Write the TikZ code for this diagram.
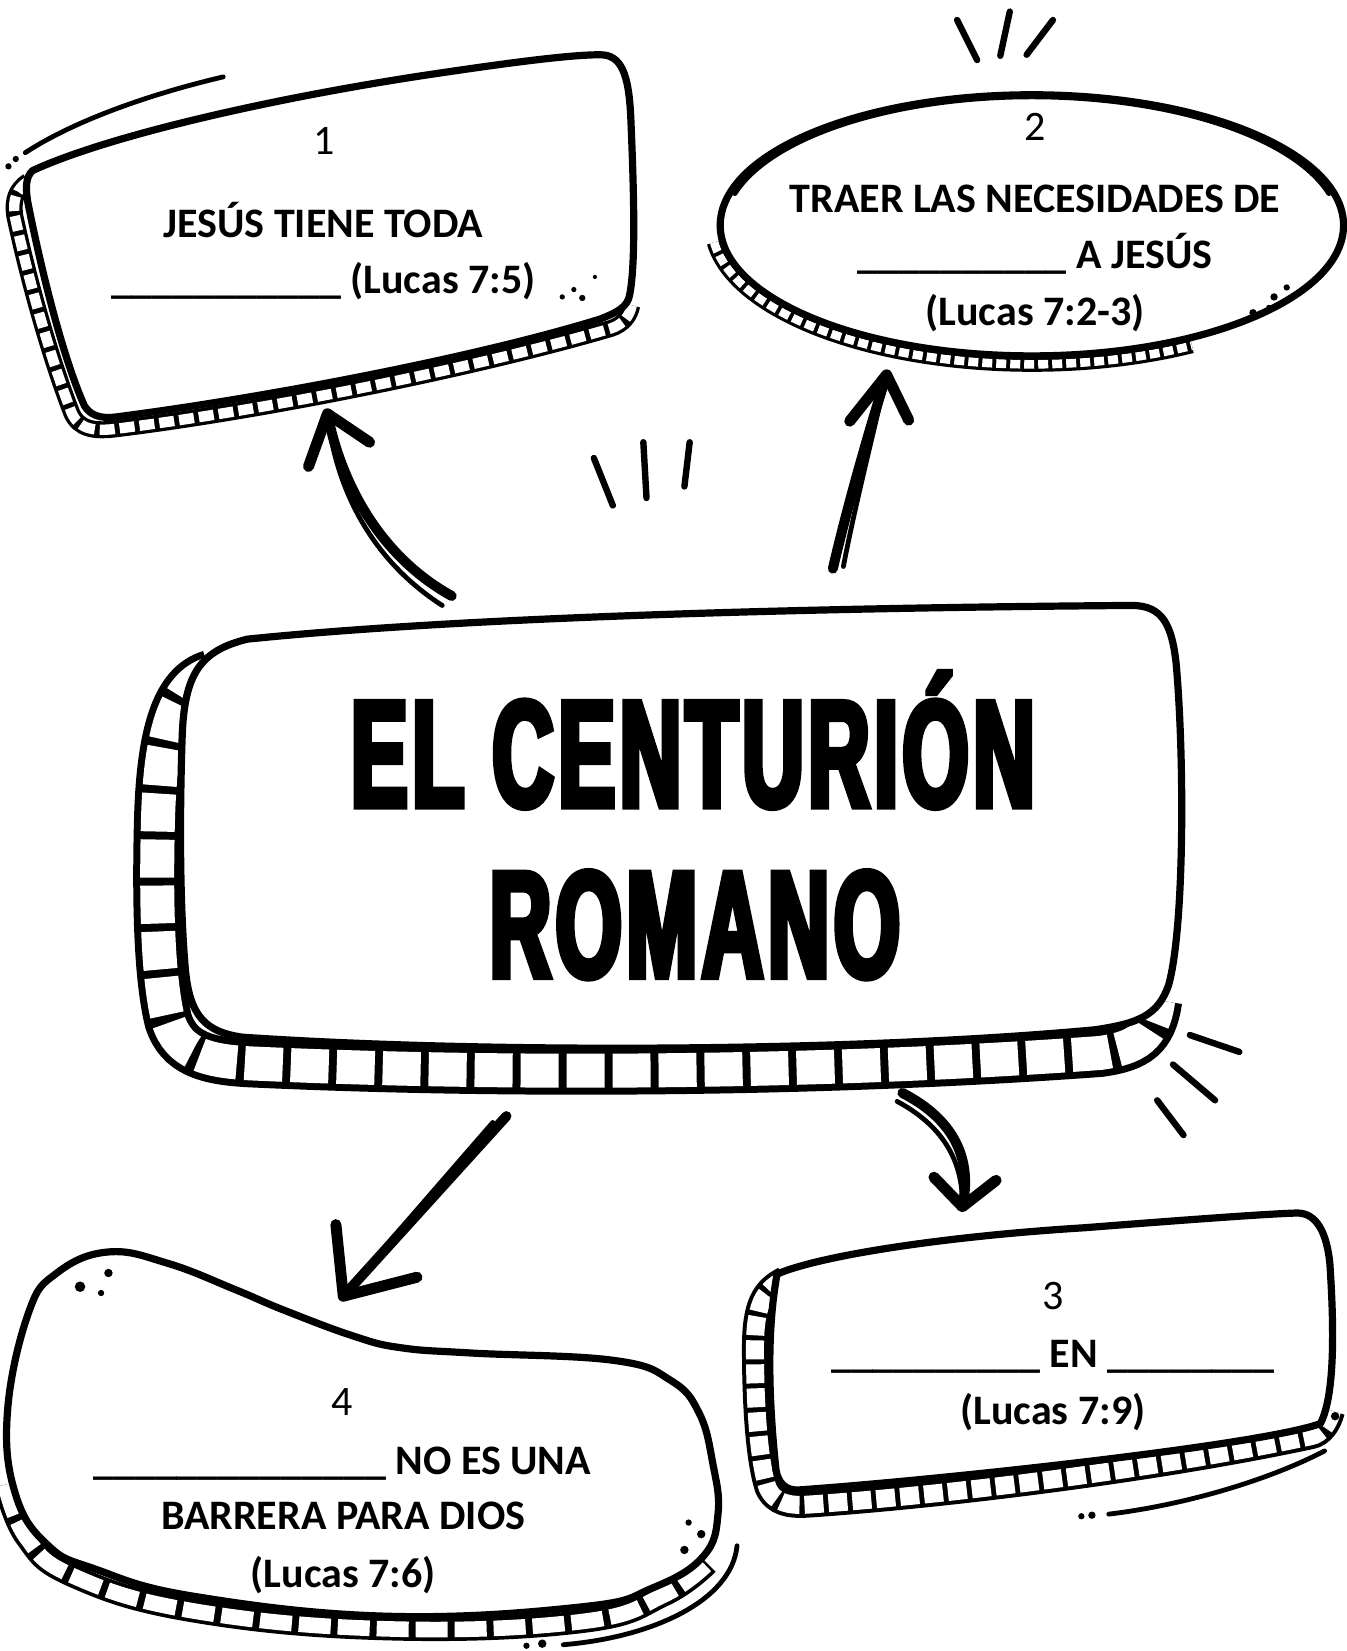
\documentclass[tikz,border=0pt]{standalone}
\usepackage{fontspec}
\setmainfont{Carlito}
\newfontfamily\titlefont{Liberation Sans}[FakeStretch=0.56, FakeBold=4, LetterSpace=3]

\begin{document}
\begin{tikzpicture}[x=0.5266pt, y=-0.5266pt]
	\tikzstyle{boxline}=[draw, fill=white, line width=3.6pt, line join=round]
	\tikzstyle{trace}=[line width=2.4pt, line cap=round]
	\tikzstyle{shaft}=[line width=5pt, line cap=round, line join=round]
	\tikzstyle{barb}=[line width=5.5pt, line cap=round, line join=round]
	\tikzstyle{spark}=[line width=3.2pt, line cap=round]
	\tikzstyle{num}=[font=\fontsize{21}{25}\selectfont, anchor=base, inner sep=0pt]
	\tikzstyle{txt}=[font=\fontsize{21}{25}\selectfont\bfseries, anchor=base, inner sep=0pt]
	\tikzstyle{title}=[font=\fontsize{76}{80}\selectfont\titlefont\bfseries, anchor=base, inner sep=0pt]
	\tikzset{hatch/.style n args={4}{draw, line width=#1, postaction={draw=white, line width=#2, dash pattern=on #3 off #4}}}
	\useasboundingbox[fill=white] (0,0) rectangle (1279,1568);

	% hatched bands
	\draw[hatch={8.5pt}{5.2pt}{7.5pt}{2.5pt}] (27,172) .. controls (15,180) and (12,190) .. (14,205) .. controls (28,270) and (48,340) .. (68,392) .. controls (75,408) and (90,410) .. (112,407) .. controls (250,390) and (450,350) .. (580,312) .. controls (592,308) and (598,300) .. (600,290);
	\draw[hatch={7.5pt}{4.3pt}{5pt}{2pt}] (980,214) ++(173:304 and 132) arc[start angle=173, end angle=60, x radius=304, y radius=132];
	\draw[hatch={24pt}{17pt}{19pt}{4pt}] (200,640) .. controls (165,650) and (152,700) .. (150,780) .. controls (148,860) and (150,930) .. (160,970) .. controls (170,1000) and (195,1008) .. (240,1010) .. controls (500,1022) and (800,1018) .. (1045,1000) .. controls (1080,995) and (1095,985) .. (1100,950);
	\draw[hatch={13pt}{9pt}{9.5pt}{2.5pt}] (745,1215) .. controls (725,1225) and (717,1240) .. (717,1280) .. controls (717,1330) and (720,1385) .. (729,1413) .. controls (736,1428) and (750,1430) .. (767,1429) .. controls (900,1420) and (1100,1395) .. (1245,1364) .. controls (1255,1362) and (1262,1352) .. (1265,1340);
	\draw[hatch={11.5pt}{7.8pt}{16pt}{3.5pt}] plot[smooth, tension=0.7] coordinates {(5,1410) (25,1460) (70,1497) (184,1530) (369,1547) (553,1540) (630,1515) (672,1485)};

	% boxes
	\draw[boxline] (31,162) .. controls (100,130) and (250,95) .. (400,72) .. controls (480,60) and (540,52) .. (570,52) .. controls (590,52) and (597,70) .. (599,110) .. controls (602,180) and (604,250) .. (598,280) .. controls (596,292) and (585,297) .. (570,303) .. controls (450,340) and (250,378) .. (110,396) .. controls (95,398) and (85,394) .. (80,385) .. controls (60,340) and (40,260) .. (27,195) .. controls (24,180) and (24,168) .. cycle;
	\draw[boxline] (980,214) ellipse [x radius=296, y radius=124];
	\draw[trace] (980,216) ++(195:292 and 124) arc[start angle=195, end angle=345, x radius=292, y radius=124];
	\draw[boxline] (173,700) .. controls (175,640) and (190,618) .. (235,607) .. controls (450,585) and (800,577) .. (1075,575) .. controls (1105,575) and (1113,595) .. (1117,630) .. controls (1125,720) and (1125,880) .. (1110,935) .. controls (1100,965) and (1080,972) .. (1040,978) .. controls (800,1000) and (450,1000) .. (230,985) .. controls (195,980) and (180,965) .. (176,920) .. controls (170,850) and (171,760) .. cycle;
	\draw[boxline] (738,1210) .. controls (780,1192) and (900,1174) .. (1030,1166) .. controls (1120,1159) and (1200,1153) .. (1232,1152) .. controls (1250,1152) and (1260,1170) .. (1263,1200) .. controls (1267,1260) and (1268,1325) .. (1254,1352) .. controls (1200,1372) and (900,1405) .. (759,1415) .. controls (746,1416) and (739,1408) .. (737,1396) .. controls (730,1330) and (728,1265) .. cycle;
	\draw[boxline] plot[smooth cycle, tension=0.7] coordinates {(7,1342) (27,1247) (54,1209) (103,1189) (160,1200) (224,1225) (269,1244) (336,1269) (381,1280) (448,1285) (583,1292) (637,1311) (664,1342) (677,1390) (682,1437) (668,1478) (620,1508) (553,1526) (369,1535) (184,1516) (90,1490) (46,1468) (15,1420)};

	% texts
	\node[num] (n1) at (308,147) {1};
	\node[txt] (q1a) at (307,226) {JESÚS TIENE TODA};
	\node[txt] (q1b) at (307,279) {\_\_\_\_\_\_\_\_\_\_\_ (Lucas 7:5)};
	\node[num] (n2) at (983,133) {2};
	\node[txt] (q2a) at (983,202) {TRAER LAS NECESIDADES DE};
	\node[txt] (q2b) at (983,255) {\_\_\_\_\_\_\_\_\_\_ A JESÚS};
	\node[txt] (q2c) at (983,309) {(Lucas 7:2-3)};
	\node[title] (title1) at (658,766) {EL CENTURIÓN};
	\node[title] (title2) at (660,928) {ROMANO};
	\node[num] (n3) at (1000,1244) {3};
	\node[txt] (q3a) at (1000,1299) {\_\_\_\_\_\_\_\_\_\_ EN \_\_\_\_\_\_\_\_};
	\node[txt] (q3b) at (1000,1353) {(Lucas 7:9)};
	\node[num] (n4) at (325,1344) {4};
	\node[txt] (q4a) at (325,1400) {\_\_\_\_\_\_\_\_\_\_\_\_\_\_ NO ES UNA};
	\node[txt] (q4b) at (326,1453) {BARRERA PARA DIOS};
	\node[txt] (q4c) at (326,1508) {(Lucas 7:6)};

	% arrows
	\coordinate (c1s) at (429,566);
	\coordinate (c1t) at (311,393);
	\coordinate (c1l) at (293,443);
	\coordinate (c1r) at (351,420);
	\coordinate (c2s) at (791,540);
	\coordinate (c2t) at (842,356);
	\coordinate (c2l) at (807,400);
	\coordinate (c2r) at (863,399);
	\coordinate (c3s) at (857,1038);
	\coordinate (c3t) at (914,1146);
	\coordinate (c3l) at (887,1118);
	\coordinate (c3r) at (946,1121);
	\coordinate (c4s) at (481,1060);
	\coordinate (c4t) at (326,1231);
	\coordinate (c4l) at (319,1163);
	\coordinate (c4r) at (396,1213);
	\draw[shaft] (c1s) .. controls (355,525) and (322,450) .. (c1t);
	\draw[trace] (420,575) .. controls (350,530) and (318,460) .. (c1t);
	\draw[barb] (c1l) -- (c1t) -- (c1r);
	\draw[shaft] (c2s) .. controls (805,480) and (825,410) .. (c2t);
	\draw[trace] (801,538) .. controls (812,480) and (830,410) .. (c2t);
	\draw[barb] (c2l) -- (c2t) -- (c2r);
	\draw[shaft] (c3s) .. controls (900,1060) and (925,1095) .. (c3t);
	\draw[trace] (852,1046) .. controls (893,1068) and (915,1100) .. (c3t);
	\draw[barb] (c3l) -- (c3t) -- (c3r);
	\draw[shaft] (c4s) -- (c4t);
	\draw[trace] (468,1066) -- (336,1218);
	\draw[barb] (c4l) -- (c4t) -- (c4r);

	% sparks
	\draw[spark] (909,19) -- (928,57);
	\draw[spark] (959,11) -- (950,53);
	\draw[spark] (1000,19) -- (975,52);
	\draw[spark] (564,435) -- (582,480);
	\draw[spark] (611,420) -- (614,473);
	\draw[spark] (655,420) -- (650,462);
	\draw[spark] (1130,983) -- (1177,999);
	\draw[spark] (1114,1011) -- (1154,1045);
	\draw[spark] (1099,1045) -- (1124,1078);

	% doodles
	\draw[trace] (24,145) .. controls (70,115) and (140,90) .. (212,73);
	\draw[trace] (700,1468) .. controls (695,1520) and (620,1555) .. (535,1562);
	\draw[trace] (1258,1378) .. controls (1200,1408) and (1120,1430) .. (1053,1438);
	\fill (8,158) circle[radius=3];
	\fill (15,151) circle[radius=3];
	\fill (534,282) circle[radius=2.5];
	\fill (545,275) circle[radius=2.5];
	\fill (553,283) circle[radius=3];
	\fill (565,263) circle[radius=2];
	\fill (1222,273) circle[radius=3];
	\fill (1210,282) circle[radius=3.5];
	\fill (1205,292) circle[radius=2.5];
	\fill (1190,297) circle[radius=3.5];
	\fill (1268,1345) circle[radius=4];
	\fill (1027,1440) circle[radius=3];
	\fill (1037,1439) circle[radius=3.5];
	\fill (103,1209) circle[radius=4];
	\fill (76,1222) circle[radius=5];
	\fill (96,1228) circle[radius=3];
	\fill (654,1446) circle[radius=3];
	\fill (666,1457) circle[radius=4];
	\fill (650,1472) circle[radius=4];
	\fill (500,1563) circle[radius=3];
	\fill (515,1561) circle[radius=4];
\end{tikzpicture}
\end{document}
